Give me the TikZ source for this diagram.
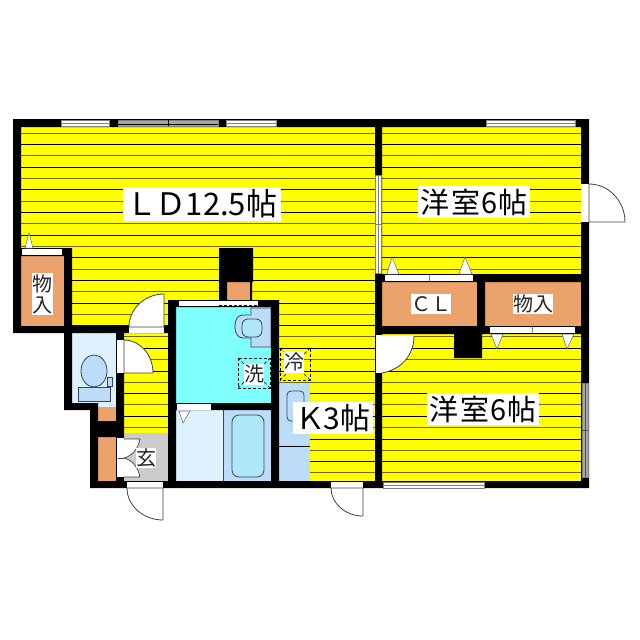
\documentclass[tikz,border=0pt]{standalone}
\usepackage{fontspec}
\setmainfont{Noto Sans CJK JP}
\usetikzlibrary{calc}
\definecolor{roomyellow}{HTML}{FFFF00}
\definecolor{olive}{HTML}{6A6A00}
\definecolor{storage}{HTML}{EBA36B}
\definecolor{pale}{HTML}{DDF1FF}
\definecolor{midblue}{HTML}{BDDCF8}
\definecolor{washcyan}{HTML}{80FFFF}
\definecolor{tubblue}{HTML}{AEE8F8}
\definecolor{entrygray}{HTML}{CCCCCC}
\definecolor{winedge}{HTML}{808080}
\definecolor{fixline}{HTML}{334466}
\tikzset{
  wallfill/.style={fill=black,draw=none},
  strip/.style={fill=white,draw=none},
  glassw/.style={fill=white,draw=winedge,line width=.7pt},
  glassg/.style={fill=winedge!70,draw=winedge,line width=.7pt},
  swing/.style={fill=white,draw=black!75,line width=.8pt},
  tri/.style={fill=white,draw=black!60,line width=.5pt},
  fixture/.style={draw=fixline,line width=.8pt},
  dashbox/.style={draw=black,densely dashed,line width=.7pt},
  labelbig/.style={fill=white,inner sep=0pt,font=\fontsize{29}{29}\selectfont,anchor=center},
  labelsmall/.style={fill=white,inner sep=0pt,font=\fontsize{20}{20}\selectfont,anchor=center,text=black!85}
}
\newcommand{\fanshape}[4]{% centre, end A, end B, corner
  \path[swing] (#1) -- (#2) .. controls ($(#2)!0.55!(#4)$) and ($(#3)!0.55!(#4)$) .. (#3) -- cycle;}
\begin{document}
\begin{tikzpicture}[x=1pt,y=-1pt]
\useasboundingbox[fill=white] (0,0) rectangle (640,640);
% yellow floor with hatch lines
\begin{scope}
\clip (21,127) -- (581,127) -- (581,481) -- (124,481) -- (124,333) -- (21,333) -- cycle;
\fill[roomyellow] (21,127) rectangle (581,481);
\foreach \k in {0,...,30} {
  \pgfmathsetmacro{\yy}{133+11.33*\k}
  \pgfmathparse{int(mod(\k,2))}
  \ifnum\pgfmathresult=0 \draw[olive,line width=.9pt] (21,\yy) -- (581,\yy);
  \else \draw[black,line width=.8pt] (21,\yy) -- (581,\yy); \fi
}
\end{scope}
% interiors
\fill[storage] (21,256) rectangle (64,326);
\fill[storage] (382,282) rectangle (477,326);
\fill[storage] (485,282) rectangle (581,326);
\fill[storage] (98,407) rectangle (116,421);
\fill[storage] (98,437) rectangle (116,481);
\fill[storage] (227,282) rectangle (250,300);
\fill[pale] (72,333) rectangle (116,403);
\fill[pale] (94,403) rectangle (116,407);
\fill[washcyan] (176,307) rectangle (271,403);
\fill[pale] (176,410) rectangle (223,481);
\fill[midblue] (223,410) rectangle (271,481);
\draw[fixture] (223,410) -- (223,481);
\fill[midblue] (279,383) rectangle (310,481);
\fill[entrygray] (124,433) rectangle (168,481);
% toilet
\draw[fixture,fill=midblue] (94,371) ellipse [x radius=13,y radius=16];
\draw[fixture,fill=midblue] (107,377) rectangle (112.5,386);
\draw[fixture,fill=midblue] (78,387) rectangle (110,401);
% washbasin
\path[fill=midblue] (251,308) -- (271,308) -- (271,347) -- (251,347) -- cycle;
\draw[fixture,fill=midblue] (251,315) -- (243,315) .. controls (238,315) and (235,319) .. (235,326) .. controls (235,334) and (238,338) .. (243,338) -- (251,338) -- (251,347) -- (271,347) -- (271,308) -- (251,308) -- cycle;
\draw[fixture,fill=tubblue,rounded corners=6pt] (242,319) rectangle (262,337);
% bath tub and kitchen
\draw[fixture,fill=tubblue,rounded corners=7pt] (232,415) rectangle (264,477);
\draw[fixture,fill=midblue,rounded corners=4pt] (287,391) rectangle (304,421);
\draw[black,line width=.8pt] (279,446.5) -- (310,446.5);
% dashed appliance spaces
\draw[dashbox] (238,358) rectangle (270,388);
\draw[dashbox] (238,358) -- (244,364) (270,358) -- (264,364) (238,388) -- (244,382) (270,388) -- (264,382);
\draw[dashbox] (280,348) rectangle (310,380);
\draw[dashbox] (280,348) -- (286,354) (310,348) -- (304,354) (280,380) -- (286,374) (310,380) -- (304,374);
% walls
\path[wallfill]
  (13,119) rectangle (589,127)
  (13,119) rectangle (21,333)
  (581,119) rectangle (589,488)
  (90,481) rectangle (589,488)
  (21,248) rectangle (72,256)
  (64,248) rectangle (72,410)
  (13,326) rectangle (176,333)
  (64,403) rectangle (94,410)
  (90,403) rectangle (98,488)
  (98,421) rectangle (116,437)
  (116,333) rectangle (124,488)
  (168,300) rectangle (176,488)
  (168,300) rectangle (279,307)
  (271,300) rectangle (279,488)
  (176,403) rectangle (271,410)
  (375,119) rectangle (382,488)
  (375,274) rectangle (589,282)
  (375,326) rectangle (589,334)
  (477,274) rectangle (485,334)
  (454,334) rectangle (482,358)
  (219,248) rectangle (253,282)
  (219,282) rectangle (227,300)
  (250,282) rectangle (252,300);
% windows
\path[glassw] (61,120) rectangle (109,126);
\draw[winedge,line width=.7pt] (61,123) -- (109,123);
\path[glassg] (118,120) rectangle (218,126);
\draw[black,line width=.7pt] (118,124.5) -- (218,124.5) (168,120) -- (168,126);
\path[glassw] (226,120) rectangle (276,126);
\draw[winedge,line width=.7pt] (226,123) -- (276,123);
\path[glassw] (486,120) rectangle (575,126);
\draw[winedge,line width=.7pt] (486,123) -- (575,123);
\path[glassw] (375.5,175) rectangle (381,273);
\draw[winedge,line width=.7pt] (378,175) -- (378,273) (375.5,224) -- (381,224);
\path[glassw] (383,482) rectangle (484,488);
\draw[winedge,line width=.5pt] (383,485) -- (484,485);
\path[glassg] (582,383) rectangle (588,477);
\draw[winedge!60!black,line width=.7pt] (585,383) -- (585,477) (582,430) -- (588,430);
% closet doors
\path[strip] (22,249) rectangle (62,255);
\path[tri] (25,248) -- (29,233) -- (33,248) -- cycle;
\path[strip] (385,275) rectangle (473,281);
\draw[winedge,line width=.7pt] (429,275) -- (429,281);
\path[tri] (387,274) -- (392,257) -- (399,274) -- cycle;
\path[tri] (459,274) -- (465,257) -- (472,274) -- cycle;
\path[strip] (490,327) rectangle (575,333);
\draw[winedge,line width=.7pt] (532,327) -- (532,333);
\path[tri] (491,334) -- (497,349) -- (503,334) -- cycle;
\path[tri] (562,334) -- (567,349) -- (574,334) -- cycle;
\path[strip] (177,404) rectangle (211,410);
\path[tri] (179,411) -- (183,423) -- (190,411) -- cycle;
\path[strip] (179,301) rectangle (258,306);
\draw[black,densely dashed,line width=.6pt] (219,305.5) -- (258,305.5);
% hinged doors
\path[strip] (129,327) rectangle (164,333);
\fanshape{164,327}{164,294}{129,327}{129,294}
\path[strip] (117,340) rectangle (124,373);
\fanshape{124,373}{124,340}{153,373}{153,340}
\path[strip] (581,184) rectangle (589,222);
\fanshape{589,222}{589,184}{625,222}{625,184}
\path[strip] (375.5,335) rectangle (381.5,373);
\path[fill=white] (382,336) -- (414,336) .. controls (414,356) and (400,370) .. (382,373) -- cycle;
\draw[black!75,line width=.8pt] (414,336) .. controls (414,356) and (400,370) .. (382,373);
\path[strip] (331,482) rectangle (363,488);
\fanshape{363,488}{331,488}{363,516}{331,516}
\path[strip] (127,482) rectangle (163,488);
\fanshape{163,488}{127,488}{163,520}{127,520}
\path[strip] (117,438) rectangle (124,477);
\draw[black!75,line width=.7pt] (118,458) -- (124,458);
\fill[white] (124,439) -- (140,439) .. controls (138,449) and (132,456) .. (124,458) .. controls (132,460) and (138,467) .. (140,477) -- (124,477) -- cycle;
\draw[black!75,line width=.7pt] (124,439) -- (140,439) .. controls (138,449) and (132,456) .. (124,458) .. controls (132,460) and (138,467) .. (140,477) -- (124,477);
% labels
\node[labelbig,font=\fontsize{31}{31}\selectfont,minimum width=158pt,minimum height=34pt] (ld) at (202,204) {Ｌ\hspace{-2pt}Ｄ\hspace{-1pt}12.5帖};
\node[labelbig,minimum width=112pt,minimum height=32pt] (west1) at (474,202) {洋\hspace{2pt}室\hspace{1pt}6帖};
\node[labelbig,minimum width=112pt,minimum height=32pt] (west2) at (483,409) {洋\hspace{2pt}室\hspace{1pt}6帖};
\node[labelbig,font=\fontsize{30}{30}\selectfont,minimum width=80pt,minimum height=32pt] (kit) at (333,418) {Ｋ\hspace{-2pt}3帖};
\node[labelsmall,minimum width=21pt,minimum height=42pt,align=center] (mono1) at (42.5,294) {物\\[1pt]入};
\node[labelsmall,minimum width=40pt,minimum height=20pt] (cl) at (431,304) {Ｃ\hspace{0pt}Ｌ};
\node[labelsmall,minimum width=40pt,minimum height=20pt] (mono2) at (533,304) {物入};
\node[labelsmall,minimum width=19pt,minimum height=20pt] (gen) at (146,458) {玄};
\node[labelsmall,minimum width=20pt,minimum height=21pt] (sen) at (254,374) {洗};
\node[labelsmall,minimum width=19pt,minimum height=21pt] (rei) at (294,362) {冷};
\end{tikzpicture}
\end{document}
